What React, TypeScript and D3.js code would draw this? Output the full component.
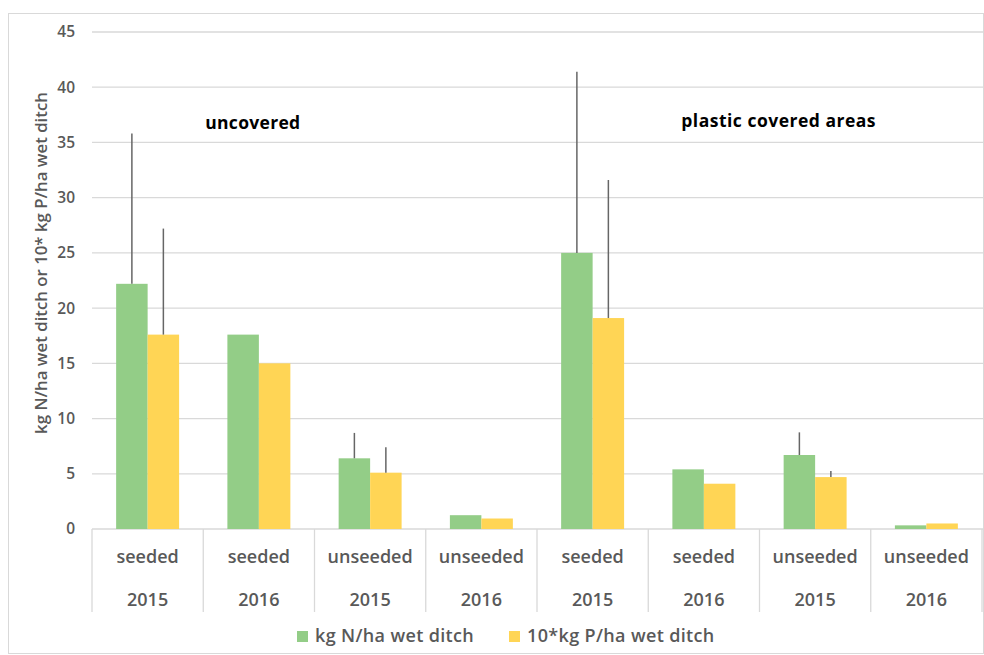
import React from "react";
import * as d3 from "d3";

const categories = ["seeded", "seeded", "unseeded", "unseeded", "seeded", "seeded", "unseeded", "unseeded"];
const years = ["2015", "2016", "2015", "2016", "2015", "2016", "2015", "2016"];
const nValues = [22.2, 17.6, 6.4, 1.25, 25.0, 5.4, 6.7, 0.33];
const pValues = [17.6, 15.0, 5.1, 0.95, 19.1, 4.1, 4.7, 0.5];
const nErrTop = [35.8, null, 8.7, null, 41.4, null, 8.75, null];
const pErrTop = [27.2, null, 7.4, null, 31.6, null, 5.25, null];
const yTicks = [0, 5, 10, 15, 20, 25, 30, 35, 40, 45];
const seriesNames = ["kg N/ha wet ditch", "10*kg P/ha wet ditch"];
const yTitle = "kg N/ha wet ditch or 10* kg P/ha wet ditch";
const annotations = [
  { text: "uncovered", cat: 1, value: 36.4 },
  { text: "plastic covered areas", cat: 5, value: 36.6 },
];

const W = 984, H = 655;
const left = 92, right = 982, top = 32, bottom = 529;
const GREEN = "#93CD87", YELLOW = "#FFD555", TXT = "#595959", GRID = "#d9d9d9";
const FONT = "'Open Sans', sans-serif";

export default function App() {
  const idx = categories.map((_, i) => i);
  const x = d3.scaleBand<number>().domain(idx).range([left, right]).paddingInner(0).paddingOuter(0);
  const y = d3.scaleLinear().domain([0, 45]).range([bottom, top]);
  const bw = x.bandwidth();
  const groupW = bw * 0.566;
  const sub = d3.scaleBand<number>().domain([0, 1]).range([0, groupW]);
  const offs = (bw - groupW) / 2;
  const series = [nValues, pValues];
  const errs = [nErrTop, pErrTop];
  const colors = [GREEN, YELLOW];

  return (
    <svg width={W} height={H} style={{ position: "absolute", left: 0, top: 0, background: "#fff" }} fontFamily={FONT}>
      <rect x={8.5} y={13.5} width={975} height={640} fill="#fff" stroke="#d9d9d9" />
      {yTicks.map((t) => (
        <g key={t}>
          <line x1={left} x2={984} y1={y(t)} y2={y(t)} stroke={GRID} strokeWidth={1.3} />
          <text x={75} y={y(t)} dy="0.35em" textAnchor="end" fontSize={15.5} fontWeight={600} fill={TXT}>{t}</text>
        </g>
      ))}
      {[...idx, idx.length].map((i) => {
        const xx = i < idx.length ? (x(i) as number) : right;
        return <line key={"s" + i} x1={xx} x2={xx} y1={bottom} y2={612} stroke={GRID} strokeWidth={1.3} />;
      })}
      {series.map((vals, s) =>
        vals.map((v, i) => (
          <rect key={s + "-" + i}
            x={(x(i) as number) + offs + (sub(s) as number)}
            y={y(v)} width={sub.bandwidth()} height={bottom - y(v)} fill={colors[s]} />
        ))
      )}
      {errs.map((vals, s) =>
        vals.map((v, i) => v == null ? null : (
          <line key={"e" + s + "-" + i}
            x1={(x(i) as number) + offs + (sub(s) as number) + sub.bandwidth() / 2}
            x2={(x(i) as number) + offs + (sub(s) as number) + sub.bandwidth() / 2}
            y1={y(series[s][i])} y2={y(v)} stroke="#666" strokeWidth={1.5} />
        ))
      )}
      {idx.map((i) => (
        <g key={"l" + i}>
          <text x={(x(i) as number) + bw / 2} y={562.5} textAnchor="middle" fontSize={18} fontWeight={600} fill={TXT}>{categories[i]}</text>
          <text x={(x(i) as number) + bw / 2} y={605.5} textAnchor="middle" fontSize={18} fontWeight={600} fill={TXT}>{years[i]}</text>
        </g>
      ))}
      {annotations.map((a) => (
        <text key={a.text} x={(x(a.cat) as number) + (a.cat === 1 ? 2 : 33)} y={y(a.value) + 2} fontSize={17.5} fontWeight={700} fill="#000"
          letterSpacing={a.cat === 1 ? 0.3 : 0.5} textAnchor="start">{a.text}</text>
      ))}
      <text transform={`translate(47, 263) rotate(-90)`} textAnchor="middle" fontSize={16.8} fontWeight={600} fill={TXT}>{yTitle}</text>
      <g>
        <rect x={297} y={631} width={11} height={11} fill={GREEN} />
        <text x={315} y={642} fontSize={18} fontWeight={600} letterSpacing={0.35} fill={TXT}>{seriesNames[0]}</text>
        <rect x={509} y={631} width={11} height={11} fill={YELLOW} />
        <text x={527} y={642} fontSize={18} fontWeight={600} letterSpacing={0.35} fill={TXT}>{seriesNames[1]}</text>
      </g>
    </svg>
  );
}
